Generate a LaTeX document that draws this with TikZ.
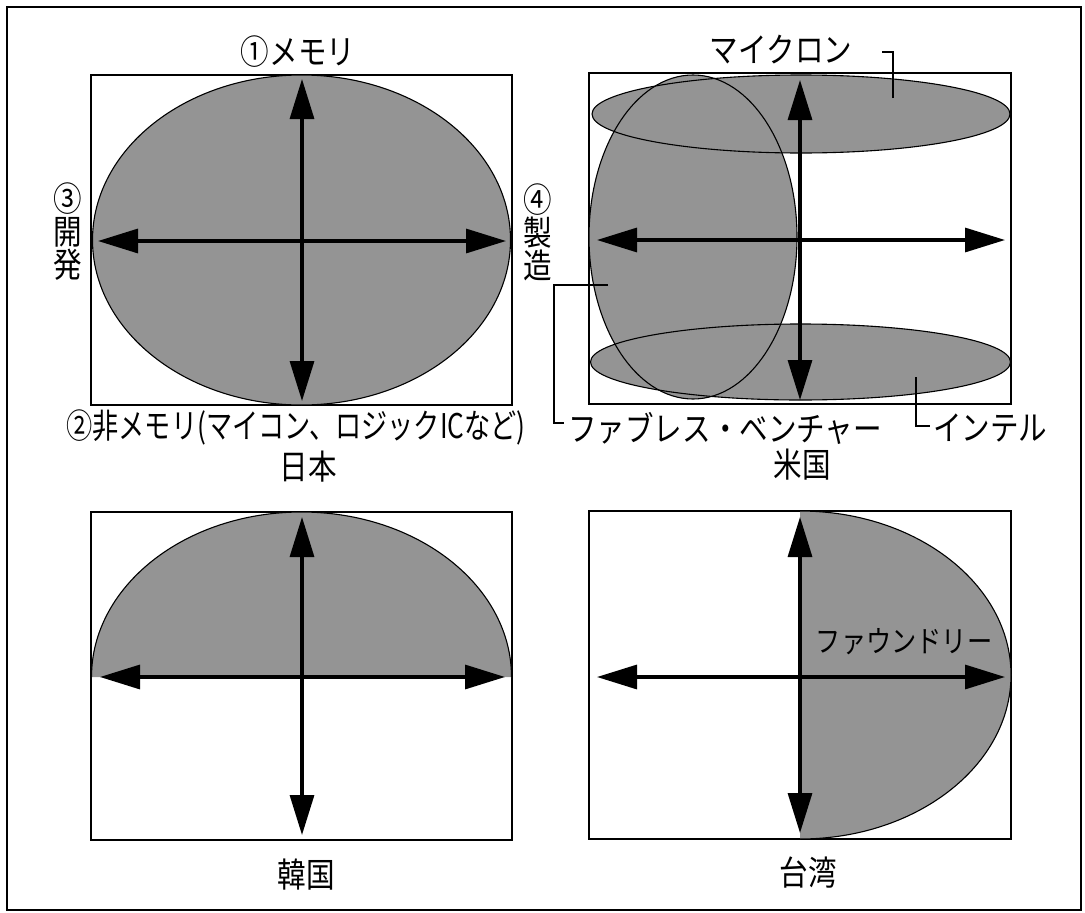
\documentclass[tikz,border=0pt]{standalone}
\usepackage{fontspec}
\newfontfamily\jp[FakeStretch=0.84]{Noto Sans CJK JP}
\newfontfamily\jpn[FakeStretch=0.77]{Noto Sans CJK JP}
\usetikzlibrary{arrows.meta}
\begin{document}
\begin{tikzpicture}[x=1pt,y=-1pt,
  frame/.style={draw=black, line width=1.4pt},
  shade/.style={fill=black!42},
  outl/.style={draw=black, line width=1.1pt},
  arr/.style={line width=3.2pt, {Triangle[length=40pt,width=24pt]}-{Triangle[length=40pt,width=24pt]}},
  lbl/.style={font=\jp\fontsize{34}{33}\selectfont, inner sep=0pt, align=center},
  lead/.style={draw=black, line width=1.2pt}]
\useasboundingbox (0,0) rectangle (1085,913);
\draw[line width=1.6pt] (7,7) rectangle (1081,910);

% ---------- Japan ----------
\draw[frame] (91,75) rectangle (512,405);
\path[shade] (301.5,240) ellipse [x radius=209pt, y radius=165pt];
\draw[outl] (301.5,240) ellipse [x radius=209pt, y radius=165pt];
\coordinate (jT) at (302,79);
\coordinate (jB) at (302,401);
\coordinate (jL) at (98,241);
\coordinate (jR) at (506,241);
\draw[arr] (jT) -- (jB);
\draw[arr] (jL) -- (jR);
\node[lbl] (mem) at (298,52) {①メモリ};
\node[lbl] (dev) at (68,232) {③\\開\\発};
\node[lbl] (mfg) at (538,232) {④\\製\\造};
\node[lbl, font=\jpn\fontsize{34}{33}\selectfont] (nonmem) at (296,427) {②非メモリ(マイコン、ロジックICなど)};
\node[lbl] (jp) at (308,467) {日本};

% ---------- USA ----------
\draw[frame] (589,73) rectangle (1011,404);
\path[shade] (801,114) ellipse [x radius=209pt, y radius=39pt];
\path[shade] (693,237) ellipse [x radius=104pt, y radius=162pt];
\path[shade] (800.5,362) ellipse [x radius=210pt, y radius=38pt];
\draw[outl] (801,114) ellipse [x radius=209pt, y radius=39pt];
\draw[outl] (693,237) ellipse [x radius=104pt, y radius=162pt];
\draw[outl] (800.5,362) ellipse [x radius=210pt, y radius=38pt];
\coordinate (uT) at (800,80);
\coordinate (uB) at (800,400);
\coordinate (uL) at (597,240);
\coordinate (uR) at (1005,240);
\draw[arr] (uT) -- (uB);
\draw[arr] (uL) -- (uR);
\node[lbl] (micron) at (781,50) {マイクロン};
\coordinate (mA) at (893,98);
\coordinate (mB) at (893,52);
\coordinate (mC) at (882,52);
\draw[lead] (mA) -- (mB) -- (mC);
\node[lbl, anchor=west] (fab) at (568,428) {ファブレス・ベンチャー};
\coordinate (fA) at (608,285);
\coordinate (fB) at (554,285);
\coordinate (fC) at (554,423);
\coordinate (fD) at (564,423);
\draw[lead] (fA) -- (fB) -- (fC) -- (fD);
\node[lbl, anchor=west] (intel) at (933,428) {インテル};
\coordinate (iA) at (916,377);
\coordinate (iB) at (916,426);
\coordinate (iC) at (930,426);
\draw[lead] (iA) -- (iB) -- (iC);
\node[lbl] (us) at (802,465) {米国};

% ---------- Korea ----------
\draw[frame] (91,512) rectangle (512,840);
\path[shade] (91.5,677) arc[start angle=180, end angle=0, x radius=210pt, y radius=165pt] -- cycle;
\draw[outl] (91.5,677) arc[start angle=180, end angle=0, x radius=210pt, y radius=165pt];
\coordinate (kT) at (302,517);
\coordinate (kB) at (302,835);
\coordinate (kL) at (100,677);
\coordinate (kR) at (505,677);
\draw[arr] (kT) -- (kB);
\draw[arr] (kL) -- (kR);
\node[lbl] (kr) at (306,875) {韓国};

% ---------- Taiwan ----------
\draw[frame] (589,511) rectangle (1011,839);
\path[shade] (800,511) arc[start angle=90, end angle=-90, x radius=211pt, y radius=164pt] -- cycle;
\draw[outl] (800,511) arc[start angle=90, end angle=-90, x radius=211pt, y radius=164pt];
\coordinate (tT) at (800,517);
\coordinate (tB) at (800,833);
\coordinate (tL) at (597,677);
\coordinate (tR) at (1005,677);
\draw[arr] (tT) -- (tB);
\draw[arr] (tL) -- (tR);
\node[lbl, font=\jp\fontsize{30}{30}\selectfont] (foundry) at (904,642) {ファウンドリー};
\node[lbl] (tw) at (808,873) {台湾};
\end{tikzpicture}
\end{document}
